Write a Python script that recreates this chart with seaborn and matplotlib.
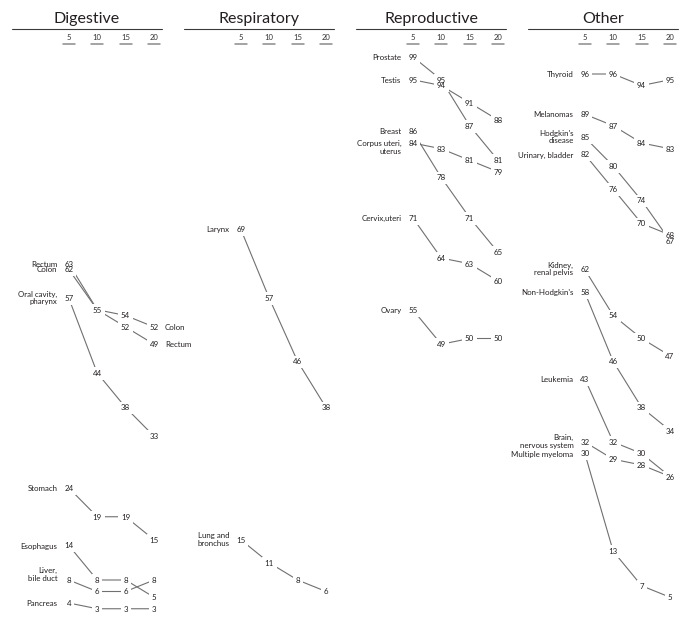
import matplotlib
matplotlib.use("Agg")
import matplotlib.pyplot as plt
import matplotlib.transforms as mtransforms
import seaborn as sns
import pandas as pd

# survival years shown in every panel
years = [5, 10, 15, 20]
groups = ["Digestive", "Respiratory", "Reproductive", "Other"]

# Digestive
digestive_sites = ["Oral cavity,\npharynx", "Esophagus", "Stomach", "Colon", "Rectum",
                   "Liver,\nbile duct", "Pancreas"]
digestive_values = [[57, 44, 38, 33], [14, 8, 8, 5], [24, 19, 19, 15], [62, 55, 54, 52],
                    [63, 55, 52, 49], [8, 6, 6, 8], [4, 3, 3, 3]]
digestive_end_labels = ["Colon", "Rectum"]

# Respiratory
respiratory_sites = ["Larynx", "Lung and\nbronchus"]
respiratory_values = [[69, 57, 46, 38], [15, 11, 8, 6]]

# Reproductive
reproductive_sites = ["Prostate", "Testis", "Breast", "Corpus uteri,\nuterus",
                      "Cervix,uteri", "Ovary"]
reproductive_values = [[99, 95, 87, 81], [95, 94, 91, 88], [86, 78, 71, 65],
                       [84, 83, 81, 79], [71, 64, 63, 60], [55, 49, 50, 50]]

# Other
other_sites = ["Thyroid", "Melanomas", "Hodgkin's\ndisease", "Urinary, bladder",
               "Kidney,\nrenal pelvis", "Non-Hodgkin's", "Leukemia",
               "Brain,\nnervous system", "Multiple myeloma"]
other_values = [[96, 96, 94, 95], [89, 87, 84, 83], [85, 80, 74, 67], [82, 76, 70, 68],
                [62, 54, 50, 47], [58, 46, 38, 34], [43, 32, 30, 26], [32, 29, 28, 26],
                [30, 13, 7, 5]]

panels = [
    (digestive_sites, digestive_values, digestive_end_labels),
    (respiratory_sites, respiratory_values, []),
    (reproductive_sites, reproductive_values, []),
    (other_sites, other_values, []),
]

# two-line names sit a little off centre in places (points, + is up)
label_shift = {"Liver,\nbile duct": 3.6, "Corpus uteri,\nuterus": -3.4}

sns.set_style("white")
plt.rcParams['font.family'] = ['Lato', 'DejaVu Sans']

W, H = 700, 626
fig = plt.figure(figsize=(W / 100, H / 100), dpi=100)

text_col = "#231f20"
line_col = "#707070"
fs = 5.7

for i, (name, (sites, values, end_labels)) in enumerate(zip(groups, panels)):
    ax = fig.add_axes([(12 + 172 * i) / W, 0, 150 / W, 1])

    rows = []
    for site, vals in zip(sites, values):
        for yr, v in zip(years, vals):
            rows.append({"site": site, "year": yr, "value": v})
    df = pd.DataFrame(rows)

    sns.lineplot(data=df, x="year", y="value", units="site", estimator=None,
                 color=line_col, linewidth=0.8, ax=ax, legend=False, zorder=1)

    ax.set_xlim(-5, 21.4)
    ax.set_ylim(0, H / 5.75)
    ax.axis("off")

    # numbers, with a white knockout under each so the lines stop short
    nums = df.drop_duplicates(subset=["year", "value"])
    for _, r in nums.iterrows():
        ax.text(r["year"], r["value"], str(r["value"]), ha="center", va="center_baseline",
                fontsize=fs, color="white", zorder=3,
                bbox=dict(boxstyle="square,pad=0.35", fc="white", ec="none"))
    for _, r in nums.iterrows():
        ax.text(r["year"], r["value"], str(r["value"]), ha="center", va="center_baseline",
                fontsize=fs, color=text_col, zorder=4)

    # site names on the left of the 5 year value
    for site, vals in zip(sites, values):
        if "\n" in site:
            ax.annotate(site, (years[0], vals[0]),
                        xytext=(-8.2, 0.3 + label_shift.get(site, 0)),
                        textcoords="offset points", ha="right", va="center",
                        fontsize=fs, color=text_col, linespacing=1.1)
        else:
            ax.annotate(site, (years[0], vals[0]), xytext=(-8.2, 0),
                        textcoords="offset points", ha="right", va="center_baseline",
                        fontsize=fs, color=text_col)
        if site in end_labels:
            ax.annotate(site, (years[-1], vals[-1]), xytext=(7.8, 0),
                        textcoords="offset points", ha="left", va="center_baseline",
                        fontsize=fs, color=text_col)

    # header: title, rule, year columns with short underline
    ax.text(0.5, 1 - 19 / H, name, transform=ax.transAxes, ha="center", va="center",
            fontsize=11.5, color=text_col)
    ax.plot([0, 1], [1 - 29 / H, 1 - 29 / H], transform=ax.transAxes,
            color="#3a3a3a", linewidth=0.8, clip_on=False)
    trans = mtransforms.blended_transform_factory(ax.transData, ax.transAxes)
    for yr in years:
        ax.text(yr, 1 - 38 / H, str(yr), transform=trans, ha="center", va="center",
                fontsize=5.5, color="#333333")
        ax.plot([yr - 1.05, yr + 1.05], [1 - 43.5 / H, 1 - 43.5 / H], transform=trans,
                color="#8a8a8a", linewidth=1.1, clip_on=False)

fig.savefig("out.png", dpi=100)
